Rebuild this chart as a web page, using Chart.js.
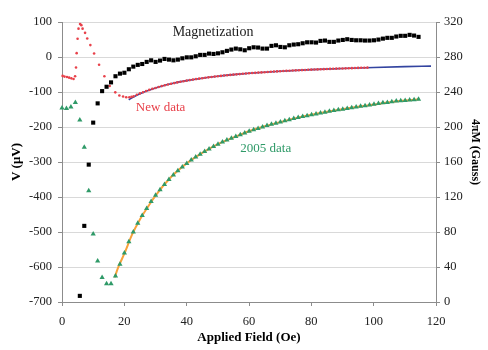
<!DOCTYPE html>
<html>
<head>
<meta charset="utf-8">
<script src="https://cdn.jsdelivr.net/npm/chart.js@4/dist/chart.umd.min.js"></script>
<style>
  html, body { margin: 0; padding: 0; background: #ffffff; }
  #wrap { position: relative; width: 488px; height: 350px; }
</style>
</head>
<body>
<div id="wrap"><canvas id="c"></canvas></div>
<script>
// ---- Data ----
// Applied field sample points (Oe) shared by the 2005 data and magnetization
const fieldGrid = [0,1.43,2.86,4.29,5.72,7.15,8.58,10.01,11.44,12.87,14.3,15.73,17.16,18.59,20.02,21.45,22.88,24.31,25.74,27.17,28.6,30.03,31.46,32.89,34.32,35.75,37.18,38.61,40.04,41.47,42.9,44.33,45.76,47.19,48.62,50.05,51.48,52.91,54.34,55.77,57.2,58.63,60.06,61.49,62.92,64.35,65.78,67.21,68.64,70.07,71.5,72.93,74.36,75.79,77.22,78.65,80.08,81.51,82.94,84.37,85.8,87.23,88.66,90.09,91.52,92.95,94.38,95.81,97.24,98.67,100.1,101.53,102.96,104.39,105.82,107.25,108.68,110.11,111.54,112.97,114.4];

// 2005 data (V, microvolts) - green triangles
const volt2005 = [-146,-147,-143,-130,-180,-258,-382,-506,-583,-630,-648,-648,
  -626,-592,-560,-528,-500,-475,-453,-433,-413,-395,-379,-364,-350,-337,-325,-314,-304,-294,-286,-278,-270,-263,-256,-249,-243,-237,-232,-227,-222,-217,-212,-208,-204,-200,-196,-192,-189,-186,-182,-179,-176,-173,-170,-168,-165,-163,-160,-158,-155,-153,-151,-149,-147,-145,-143,-141,-139,-137,-135,-133,-131,-130,-128,-126,-125,-124,-123,-122,-121];

// Magnetization 4πM (Gauss) - black squares, from the 5th field point on
const magnetField = fieldGrid.slice(4);
const magnetGauss = [7,87,157,205,227,241,246,251,258,261,262,266,269,271,272,274.4,276.2,274.4,275.9,277.8,277,276.2,277,278.5,279.6,279.6,280.8,282.4,282.4,283.9,283.5,284.2,285.4,287,288.5,289.6,288.8,287.7,290,291.1,290.8,289.6,289.6,292.7,293.4,291.5,291.1,293.4,294.2,294.6,295.7,296.8,296.8,296.5,298.4,298.8,297.3,297.3,298.8,299.5,300.3,299.5,299.1,299.1,298.8,298.8,299.1,299.9,301,301.9,301.9,303.4,304.2,304.2,305.3,304.5,303];

// New data (V, microvolts) - red dots
const newField = [0.2,0.8,1.6,2.3,3.0,3.7,4.2,4.5,4.7,5.0,5.3,5.8,6.2,6.6,7.4,8.1,9.1,10.3,11.9,13.6,15.3,17.1,18.4,19.6,20.6,21.6,22.3,
  23,24,25,26,27,28,29,30,31,32,33,34,35,36,37,38,39,40,41,42,43,44,45,46,47,48,49,50,51,52,53,54,55,56,57,58,59,60,61,62,63,64,65,66,67,68,69,70,71,72,73,74,75,76,77,78,79,80,81,82,83,84,85,86,87,88,89,90,91,92,93,94,95,96,97,98];
const newVolt = [-54,-56,-57,-59,-61,-63,-55,-30,11,52,81,94,91,81,69,53,34,10,-22,-55,-83,-101,-110,-113,-115,-115,-114,
  -112,-108,-104,-100.5,-97.2,-94,-91,-88.4,-85.7,-83.2,-80.8,-78.6,-76.5,-74.5,-72.6,-70.8,-69.1,-67.5,-66,-64.5,-63.1,-61.8,-60.5,-59.3,-58.2,-57.1,-56,-55,-54,-53,-52.1,-51.2,-50.4,-49.6,-48.8,-48,-47.3,-46.6,-45.9,-45.3,-44.6,-44,-43.4,-42.8,-42.2,-41.7,-41.2,-40.6,-40.1,-39.6,-39.2,-38.7,-38.2,-37.8,-37.4,-37,-36.5,-36.2,-35.8,-35.4,-35,-34.7,-34.3,-34,-33.6,-33.3,-33,-32.7,-32.4,-32.1,-31.8,-31.5,-31.2,-30.9,-30.7,-30.4];

// Fit to new data - blue line
const newFitField = [21.4,25,30,35,40,45,50,55,60,70,80,90,100,110,118.4];
const newFitVolt  = [-122,-105,-88.4,-76.5,-67.5,-60.5,-55,-50.4,-46.6,-40.6,-36.2,-32.7,-29.9,-27.6,-26];

// Fit to 2005 data - orange line
const fit2005Field = [16.9,18,20,22.5,25,27.5,30,35,40,45,50,55,60,65,70,75,80,85,90,95,100,105,110,114.6];
const fit2005Volt  = [-630,-602,-562,-507,-464,-429,-396,-343,-304,-274,-249,-230,-212,-198,-186,-174.6,-165,-156.7,-149,-142,-136,-129,-124,-121];

// Axis tick settings
const xTicks = { min: 0, max: 120, step: 20 };
const vTicks = { min: -700, max: 100, step: 100 };
const mTicks = { min: 0, max: 320, step: 40 };

// In-plot labels
const labelTexts  = ['Magnetization', 'New data', '2005 data'];
const labelFields = [35.5, 23.7, 57.2];
const labelVolts  = [70, -144, -262];
const labelColors = ['#222222', '#e8414a', '#2f9a68'];

const serif = "'Liberation Serif', 'Times New Roman', serif";

const pts = (xs, ys) => xs.map((x, i) => ({ x: x, y: ys[i] }));

const annotPlugin = {
  id: 'annot',
  afterDatasetsDraw(chart) {
    const ctx = chart.ctx;
    const xs = chart.scales.x, ys = chart.scales.y;
    ctx.save();
    ctx.textBaseline = 'middle';
    ctx.textAlign = 'left';
    labelTexts.forEach((t, i) => {
      ctx.font = (i === 0 ? '14px ' : '13px ') + serif;
      ctx.fillStyle = labelColors[i];
      ctx.fillText(t, xs.getPixelForValue(labelFields[i]), ys.getPixelForValue(labelVolts[i]));
    });
    // right axis title
    const ca = chart.chartArea;
    ctx.translate(475, (ca.top + ca.bottom) / 2 - 10);
    ctx.rotate(Math.PI / 2);
    ctx.textAlign = 'center';
    ctx.font = 'bold 12px ' + serif;
    ctx.fillStyle = '#000';
    ctx.fillText('4\u03C0M (Gauss)', 0, 0);
    ctx.restore();
  }
};

const axisGray = '#8c8c8c';

new Chart(document.getElementById('c'), {
  type: 'scatter',
  data: {
    datasets: [
      {
        label: 'Magnetization',
        data: pts(magnetField, magnetGauss),
        yAxisID: 'y2',
        pointStyle: 'rect',
        pointRadius: 2.9,
        pointBorderWidth: 0,
        backgroundColor: '#000000',
        borderColor: '#000000',
        showLine: false,
        clip: false,
        order: 0
      },
      {
        label: '2005 data',
        data: pts(fieldGrid, volt2005),
        yAxisID: 'y',
        pointStyle: 'triangle',
        pointRadius: 3,
        pointBorderWidth: 0,
        backgroundColor: '#2f9a68',
        borderColor: '#2f9a68',
        showLine: false,
        clip: false,
        order: 1
      },
      {
        label: 'New data',
        data: pts(newField, newVolt),
        yAxisID: 'y',
        pointStyle: 'circle',
        pointRadius: 1.3,
        pointBorderWidth: 0,
        backgroundColor: '#e8414a',
        borderColor: '#e8414a',
        showLine: false,
        clip: false,
        order: 2
      },
      {
        label: '2005 fit',
        data: pts(fit2005Field, fit2005Volt),
        yAxisID: 'y',
        showLine: true,
        pointRadius: 0,
        borderColor: '#f7a23a',
        borderWidth: 2,
        cubicInterpolationMode: 'monotone',
        order: 3
      },
      {
        label: 'New fit',
        data: pts(newFitField, newFitVolt),
        yAxisID: 'y',
        showLine: true,
        pointRadius: 0,
        borderColor: '#3344a0',
        borderWidth: 1.6,
        cubicInterpolationMode: 'monotone',
        order: 4
      }
    ]
  },
  options: {
    responsive: true,
    maintainAspectRatio: false,
    animation: false,
    devicePixelRatio: 1,
    layout: { padding: { top: 22, left: 0, right: 0, bottom: 0 } },
    plugins: { legend: { display: false }, tooltip: { enabled: false } },
    scales: {
      x: {
        type: 'linear',
        position: 'bottom',
        min: xTicks.min, max: xTicks.max,
        afterFit(s) { s.height = 48; },
        ticks: { stepSize: xTicks.step, padding: 8, color: '#222', font: { family: serif, size: 12.5 } },
        grid: { drawOnChartArea: false, tickLength: 4, tickColor: axisGray },
        border: { color: axisGray, width: 1 },
        title: { display: true, text: 'Applied Field (Oe)', color: '#000', font: { family: serif, size: 13, weight: 'bold' }, padding: { top: 0, bottom: 5 } }
      },
      y: {
        type: 'linear',
        position: 'left',
        min: vTicks.min, max: vTicks.max,
        afterFit(s) { s.width = 62; },
        ticks: { stepSize: vTicks.step, padding: 6, color: '#222', font: { family: serif, size: 12.5 } },
        grid: { color: '#d9d9d9', tickLength: 4, tickColor: axisGray, lineWidth: 1 },
        border: { color: axisGray, width: 1 },
        title: { display: true, text: 'V (\u03BCV)', color: '#000', font: { family: serif, size: 13, weight: 'bold' }, padding: { top: 9, bottom: 0 } }
      },
      y2: {
        type: 'linear',
        position: 'right',
        min: mTicks.min, max: mTicks.max,
        afterFit(s) { s.width = 52; },
        ticks: { stepSize: mTicks.step, padding: 4, color: '#222', font: { family: serif, size: 12.5 } },
        grid: { drawOnChartArea: false, tickLength: 4, tickColor: axisGray },
        border: { color: axisGray, width: 1 }
      }
    }
  },
  plugins: [annotPlugin]
});
</script>
</body>
</html>
